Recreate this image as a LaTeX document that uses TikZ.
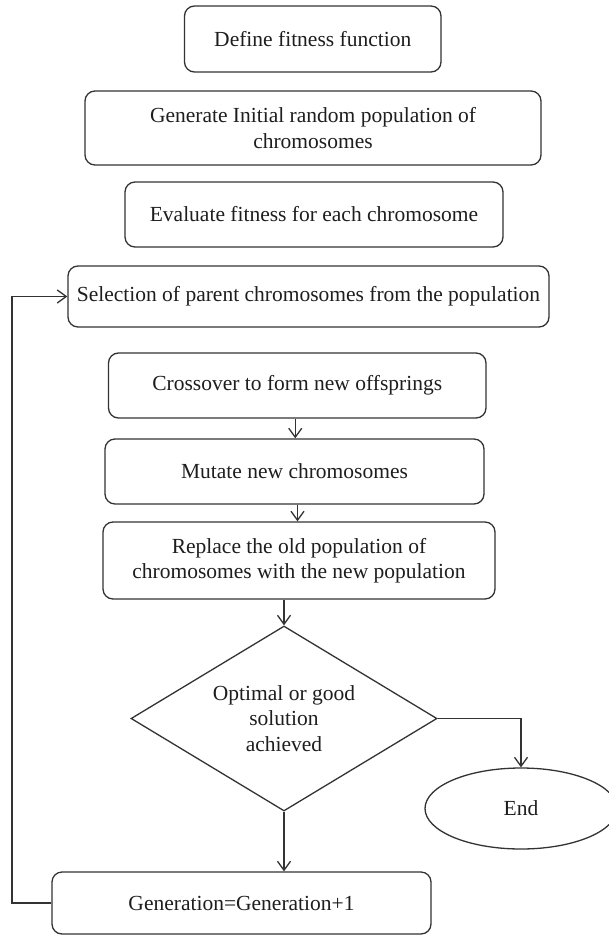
\documentclass[tikz,border=0pt]{standalone}
\usepackage{fontspec}
\setmainfont{Liberation Serif}
\usetikzlibrary{shapes.geometric,arrows.meta}
\definecolor{linec}{HTML}{333333}
\definecolor{textc}{HTML}{1E1E1E}
\tikzset{
  flowbox/.style={draw=linec, line width=1.3pt, rounded corners=10pt, align=center, inner sep=0pt, text=textc,
    font=\fontsize{21.5}{25.5}\selectfont},
  arr/.style={draw=linec, line width=1.3pt, -{Straight Barb[length=9pt,width=13pt]}},
}
\begin{document}
\begin{tikzpicture}[x=1pt,y=-1pt]
\useasboundingbox[fill=white] (0,0) rectangle (608,936);
\node[flowbox, minimum width=256.5pt, minimum height=66pt] (b1) at (312.75,39) {Define fitness function};
\node[flowbox, minimum width=456pt, minimum height=74pt] (b2) at (313,128) {Generate Initial random population of\\chromosomes};
\node[flowbox, minimum width=378pt, minimum height=65pt] (b3) at (314,214.5) {Evaluate fitness for each chromosome};
\node[flowbox, minimum width=481pt, minimum height=61pt] (b4) at (308.5,296.5) {Selection of parent chromosomes from the population};
\node[flowbox, minimum width=377.5pt, minimum height=65pt] (b5) at (297.25,385.5) {Crossover to form new offsprings};
\node[flowbox, minimum width=379pt, minimum height=65pt] (b6) at (294.5,471.5) {Mutate new chromosomes};
\node[flowbox, minimum width=392pt, minimum height=77pt] (b7) at (299,560.5) {Replace the old population of\\chromosomes with the new population};
\node[flowbox, rounded corners=0pt, shape=diamond, aspect=1.65, minimum width=306pt, minimum height=185pt] (d) at (284,718.5) {Optimal or good\\solution\\achieved};
\node[flowbox, rounded corners=0pt, shape=ellipse, minimum width=192pt, minimum height=81pt] (e) at (521,808.5) {End};
\node[flowbox, minimum width=379pt, minimum height=62pt] (b8) at (241.5,903) {Generation=Generation+1};
\coordinate (lx) at (12,0);
\draw[arr] ([xshift=-2pt]b5.south) -- ([xshift=-2pt]b5.south |- b6.north);
\draw[arr] ([xshift=3pt]b6.south) -- ([xshift=3pt]b6.south |- b7.north);
\draw[arr] (d.north |- b7.south) -- (d.north);
\draw[arr] (d.east) -| (e.north);
\draw[arr] (d.south) -- (d.south |- b8.north);
\draw[arr] (b8.west) -- (b8.west -| lx) |- (b4.west);
\end{tikzpicture}
\end{document}
